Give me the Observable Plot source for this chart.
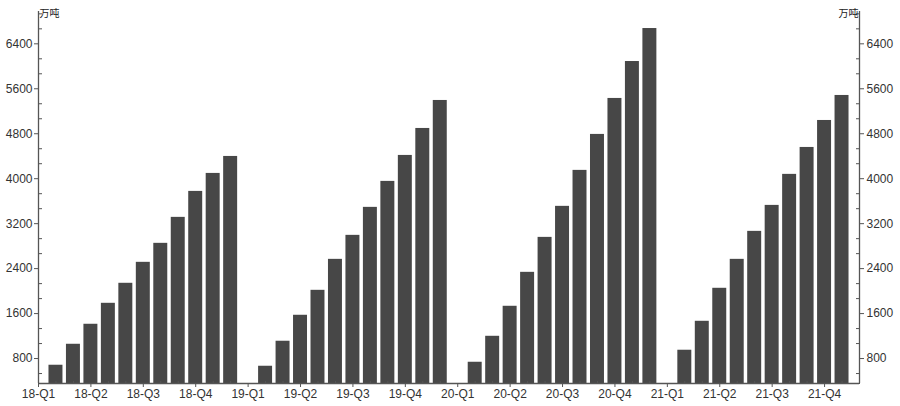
<!DOCTYPE html>
<html><head><meta charset="utf-8">
<script src="https://cdn.jsdelivr.net/npm/d3@7"></script>
<script src="https://cdn.jsdelivr.net/npm/@observablehq/plot@0.6"></script>
<style>body{margin:0;background:#fff}</style>
</head><body><div id="chart"></div>
<script>
// Cumulative values (万吨) by month, Feb..Dec (Jan combined into Feb)
const yearsShort = ["18", "19", "20", "21"];
const v2018 = [681, 1054, 1410, 1783, 2139, 2512, 2850, 3312, 3774, 4094, 4396];
const v2019 = [663, 1108, 1570, 2014, 2565, 2992, 3490, 3952, 4414, 4894, 5392];
const v2020 = [734, 1196, 1730, 2334, 2956, 3508, 4148, 4788, 5428, 6085, 6672];
const v2021 = [948, 1463, 2050, 2565, 3063, 3525, 4077, 4556, 5036, 5481];
const quarters = ["Q1", "Q2", "Q3", "Q4"];
const yTicks = [800, 1600, 2400, 3200, 4000, 4800, 5600, 6400];
const yDomain = [356, 6975];
const unit = "万吨";

const series = [v2018, v2019, v2020, v2021];
const data = [];
series.forEach((vals, k) => vals.forEach((v, j) => data.push({i: k * 12 + j + 1, v})));
const xDomain = [0, 47];
const quarterIdx = [], quarterLabel = new Map();
yearsShort.forEach((y, k) => quarters.forEach((q, j) => {
  const i = k * 12 + j * 3; quarterIdx.push(i); quarterLabel.set(i, `${y}-${q}`);
}));
const monthIdx = d3.range(0, 48).filter(i => i % 3 !== 0);
const minorY = [];
for (let t = 800 / 3; t < yDomain[1]; t += 800 / 3) if (t > yDomain[0] && Math.abs(t / 800 - Math.round(t / 800)) > 1e-6) minorY.push(t);

const W = 900, H = 406, mL = 38, mR = 41, mT = 11, mB = 23;
const pw = W - mL - mR, ph = H - mT - mB;
const axisColor = "#555";
const fmt = d => String(d);

const chart = Plot.plot({
  width: W, height: H,
  marginLeft: mL, marginRight: mR, marginTop: mT, marginBottom: mB,
  style: {fontFamily: "'Liberation Sans', Arial, 'Noto Sans CJK SC', sans-serif", fontSize: "12px", color: "#333", background: "#fff"},
  x: {type: "linear", domain: xDomain},
  y: {domain: yDomain},
  marks: [
    Plot.rect(data, {x1: d => d.i - 0.4, x2: d => d.i + 0.4, y1: yDomain[0], y2: "v", fill: "#474747"}),
    Plot.ruleX(xDomain, {stroke: axisColor, strokeWidth: 1.3}),
    Plot.ruleY([yDomain[0]], {stroke: axisColor, strokeWidth: 1.3}),
    Plot.axisY(yTicks, {anchor: "left", tickSize: 4, tickPadding: 2, stroke: axisColor, label: null, fontSize: 12, tickFormat: fmt}),
    Plot.axisY(yTicks, {anchor: "right", tickSize: 4, tickPadding: 3, stroke: axisColor, label: null, fontSize: 12, tickFormat: fmt}),
    Plot.axisY(minorY, {anchor: "right", tickSize: 3, dx: -pw, stroke: axisColor, tickFormat: () => "", label: null}),
    Plot.axisY(minorY, {anchor: "left", tickSize: 3, dx: pw, stroke: axisColor, tickFormat: () => "", label: null}),
    Plot.axisX(quarterIdx, {anchor: "bottom", tickSize: 4, tickPadding: 2, stroke: axisColor, tickFormat: i => quarterLabel.get(i), label: null, fontSize: 12}),
    Plot.axisX(monthIdx, {anchor: "top", tickSize: 3, dy: ph, stroke: axisColor, tickFormat: () => "", label: null}),
    Plot.text([unit], {frameAnchor: "top-left", text: d => d, textAnchor: "start", dx: 1, dy: -2, fontSize: 10, fill: "#222"}),
    Plot.text([unit], {frameAnchor: "top-right", text: d => d, textAnchor: "end", dx: -1, dy: -2, fontSize: 10, fill: "#222"})
  ]
});
document.getElementById("chart").appendChild(chart);
</script>
</body></html>
